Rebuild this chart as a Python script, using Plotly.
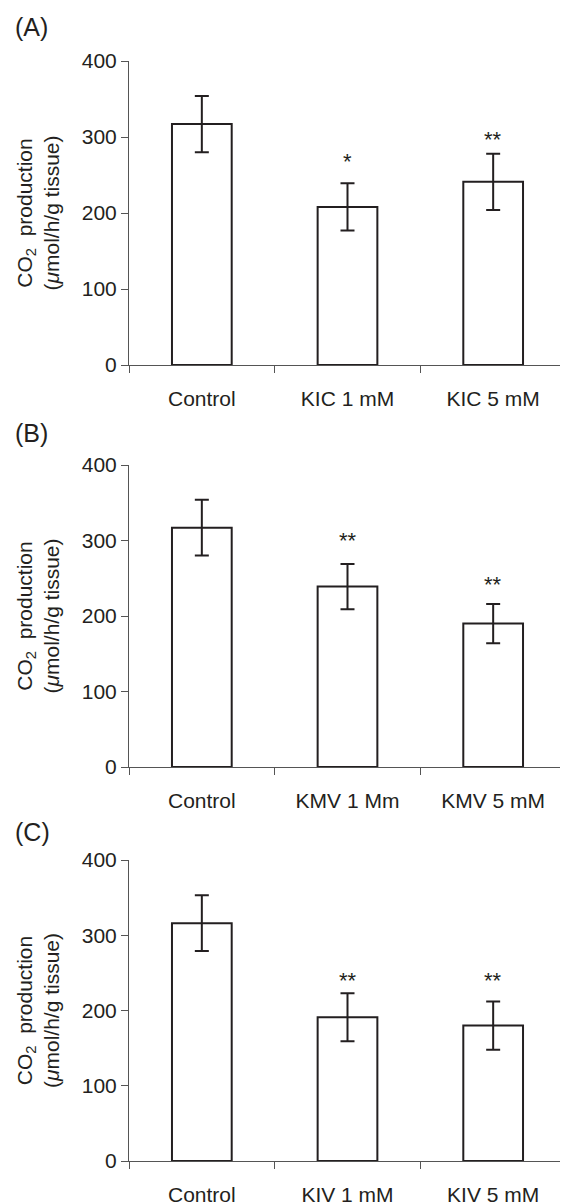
import plotly.graph_objects as go

# ---- data ----
cats_A = ["Control", "KIC 1 mM", "KIC 5 mM"]
mean_A = [317, 208, 241]
err_A = [37, 31, 37]
stars_A = ["", "*", "**"]
star_y_A = [None, 268, 297]

cats_B = ["Control", "KMV 1 Mm", "KMV 5 mM"]
mean_B = [317, 239, 190]
err_B = [37, 30, 26]
stars_B = ["", "**", "**"]
star_y_B = [None, 300, 242]

cats_C = ["Control", "KIV 1 mM", "KIV 5 mM"]
mean_C = [316, 191, 180]
err_C = [37, 32, 32]
stars_C = ["", "**", "**"]
star_y_C = [None, 240, 240]

panel_labels = ["(A)", "(B)", "(C)"]
y_ticks = [0, 100, 200, 300, 400]

# page body has an 8px default margin: lay out in page pixels, minus offset
OFF = 8
W, H = 568 - OFF, 1202 - OFF
INK = "#231f20"
AXC = "#555555"
FONT = "Arial, Liberation Sans, sans-serif"

# page-pixel layout (top, bottom of each plot area)
panels_px = [(61, 365), (465, 767), (860, 1161)]
label_px = [27, 433, 832]
x_left, x_right = 129, 566


def px_x(p):
    return (p - OFF) / W


def px_y(p):
    return 1 - (p - OFF) / H


fig = go.Figure()
panels = [
    (cats_A, mean_A, err_A, stars_A, star_y_A),
    (cats_B, mean_B, err_B, stars_B, star_y_B),
    (cats_C, mean_C, err_C, stars_C, star_y_C),
]

annotations = []
for i, (cats, means, errs, stars, sy) in enumerate(panels):
    n = "" if i == 0 else str(i + 1)
    fig.add_trace(go.Bar(
        x=cats, y=means, width=0.41,
        xaxis="x" + n, yaxis="y" + n,
        marker=dict(color="white", line=dict(color=INK, width=2)),
        error_y=dict(type="data", array=errs, visible=True, color=INK,
                     thickness=2, width=7),
        showlegend=False, hoverinfo="skip",
    ))
    top, bot = panels_px[i]
    dom = [px_y(bot), px_y(top)]
    fig.update_layout({
        "xaxis" + n: dict(
            domain=[px_x(x_left), min(1.0, px_x(x_right))], anchor="y" + n,
            type="category", range=[-0.5, 2.5],
            showline=True, linecolor=AXC, linewidth=1,
            ticks="outside", ticklen=7, tickcolor=AXC, tickwidth=1,
            tickson="boundaries", showgrid=False, zeroline=False,
            tickfont=dict(family=FONT, size=21, color=INK),
            ticklabelstandoff=15, automargin=False, fixedrange=True,
        ),
        "yaxis" + n: dict(
            domain=dom, anchor="x" + n, range=[0, 400],
            tickvals=y_ticks,
            showline=True, linecolor=AXC, linewidth=1,
            ticks="outside", ticklen=7, tickcolor=AXC, tickwidth=1,
            showgrid=False, zeroline=False,
            tickfont=dict(family=FONT, size=21, color=INK),
            title=dict(text="CO<sub>2</sub>  production<br>(<i>μ</i>mol/h/g tissue)",
                       font=dict(family=FONT, size=21, color=INK), standoff=16),
            automargin=False, fixedrange=True,
        ),
    })
    for c, s, yv in zip(cats, stars, sy):
        if s:
            annotations.append(dict(
                x=c, y=yv, xref="x" + n, yref="y" + n, text=s, showarrow=False,
                font=dict(family=FONT, size=22, color=INK),
                xanchor="center", yanchor="middle",
            ))
    annotations.append(dict(
        x=px_x(13), y=px_y(label_px[i]), xref="paper", yref="paper",
        text=panel_labels[i], showarrow=False,
        font=dict(family=FONT, size=25, color=INK),
        xanchor="left", yanchor="middle",
    ))

fig.update_layout(
    width=W, height=H,
    margin=dict(l=0, r=0, t=0, b=0),
    paper_bgcolor="white", plot_bgcolor="white",
    annotations=annotations,
)

fig.write_html("out.html")
